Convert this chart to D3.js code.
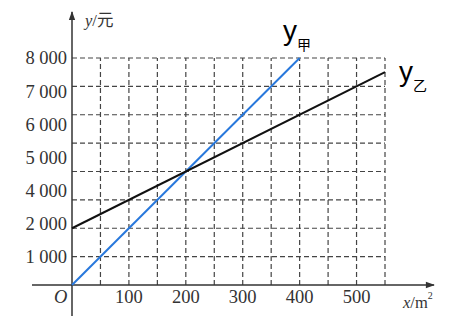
<!DOCTYPE html>
<html>
<head>
<meta charset="utf-8">
<script src="https://cdn.jsdelivr.net/npm/d3@7"></script>
<style>
  body { margin:0; background:#fff; }
  svg { display:block; }
  .num { font-family:"Liberation Serif", "Times New Roman", serif; font-size:18.5px; fill:#333; }
</style>
</head>
<body>
<script>
// data
var jiaX = [0, 400],  jiaY = [0, 8000],      // y甲 = 20x
    yiX  = [0, 550],  yiY  = [2000, 7500],   // y乙 = 10x + 2000
    xGrid = [50, 100, 150, 200, 250, 300, 350, 400, 450, 500, 550],
    yGrid = [1000, 2000, 3000, 4000, 5000, 6000, 7000, 8000],
    xTickLabels = [100, 200, 300, 400, 500],
    yTickLabels = ["8 000", "7 000", "6 000", "5 000", "4 000", "2 000", "1 000"];

var width = 457, height = 325,
    svg = d3.select("body").append("svg").attr("width",width).attr("height",height);

var x = d3.scaleLinear().domain([0,550]).range([72,385]),
    y = d3.scaleLinear().domain([0,8000]).range([285,58]);

// dashed grid
svg.append("g").selectAll("line").data(yGrid).enter().append("line")
   .attr("x1",x(0)).attr("x2",x(550))
   .attr("y1",function(d){ return y(d); }).attr("y2",function(d){ return y(d); })
   .attr("stroke","#444").attr("stroke-width",1.2).attr("stroke-dasharray","5,3");
svg.append("g").selectAll("line").data(xGrid).enter().append("line")
   .attr("x1",function(d){ return x(d); }).attr("x2",function(d){ return x(d); })
   .attr("y1",y(0)).attr("y2",y(8000))
   .attr("stroke","#444").attr("stroke-width",1.2).attr("stroke-dasharray","5,3");

// axes with arrows
svg.append("defs").append("marker").attr("id","arr")
   .attr("viewBox","0 0 10 10").attr("refX",9).attr("refY",5)
   .attr("markerWidth",9).attr("markerHeight",6).attr("orient","auto")
   .append("path").attr("d","M0,1.5L10,5L0,8.5Z").attr("fill","#333");
svg.append("line").attr("x1",32).attr("x2",434).attr("y1",y(0)).attr("y2",y(0))
   .attr("stroke","#333").attr("stroke-width",1.5).attr("marker-end","url(#arr)");
svg.append("line").attr("x1",x(0)).attr("x2",x(0)).attr("y1",316).attr("y2",12)
   .attr("stroke","#333").attr("stroke-width",1.5).attr("marker-end","url(#arr)");

// tick labels
svg.append("g").selectAll("text").data(xTickLabels).enter().append("text")
   .attr("class","num").attr("x",function(d){ return x(d); }).attr("y",303)
   .attr("text-anchor","middle").text(function(d){ return d; });

var yLab = d3.scalePoint().domain(yTickLabels).range([y(8000), y(1000)]);
svg.append("g").selectAll("text").data(yTickLabels).enter().append("text")
   .attr("class","num").attr("x",67).attr("y",function(d){ return yLab(d); })
   .attr("dy","0.35em").attr("text-anchor","end").text(function(d){ return d; });

svg.append("text").attr("class","num").attr("x",54).attr("y",303)
   .style("font-style","italic").text("O");

// axis titles
var yt = svg.append("text").attr("x",85).attr("y",26)
   .style("font-family","'Liberation Serif', 'Noto Sans CJK SC', serif").style("font-size","16.5px").style("fill","#333");
yt.append("tspan").style("font-style","italic").text("y");
yt.append("tspan").text("/元");

var xt = svg.append("text").attr("x",403).attr("y",308)
   .style("font-family","'Liberation Serif', serif").style("font-size","16.5px").style("fill","#333");
xt.append("tspan").style("font-style","italic").text("x");
xt.append("tspan").text("/m");
xt.append("tspan").attr("dy",-9).style("font-size","10px").text("2");

// lines
var line = d3.line().x(function(d){ return x(d[0]); }).y(function(d){ return y(d[1]); });
svg.append("path").datum(d3.zip(jiaX, jiaY)).attr("d",line)
   .attr("fill","none").attr("stroke","#2878dc").attr("stroke-width",2);
svg.append("path").datum(d3.zip(yiX, yiY)).attr("d",line)
   .attr("fill","none").attr("stroke","#111").attr("stroke-width",2);

// line labels
function lab(px, py, sub) {
  var t = svg.append("text").attr("x",px).attr("y",py).style("fill","#000");
  t.append("tspan").style("font-family","'Liberation Sans', Arial, sans-serif").style("font-size","28px").text("y");
  t.append("tspan").attr("dy",10).style("font-family","'Noto Sans CJK SC', sans-serif").style("font-size","14px").text(sub);
}
lab(283, 40, "甲");
lab(399, 81, "乙");
</script>
</body>
</html>
